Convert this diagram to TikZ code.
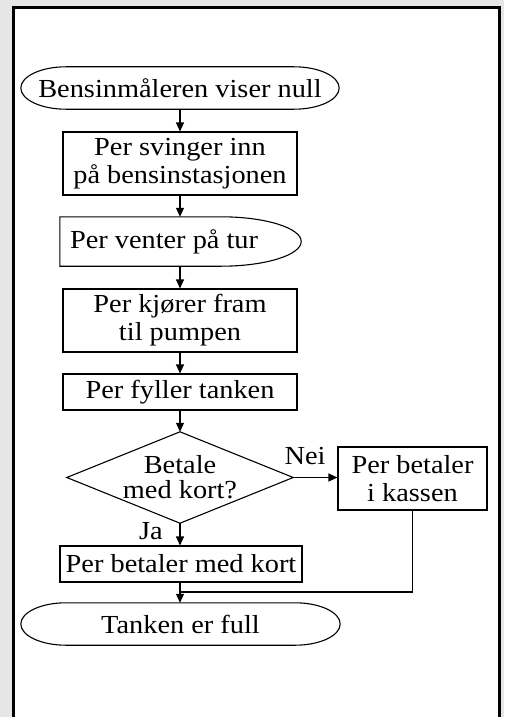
\documentclass[tikz,border=0pt]{standalone}
\usepackage{fontspec}
\setmainfont{Liberation Serif}[FakeStretch=1.09]
\usetikzlibrary{arrows.meta}
\definecolor{bgray}{HTML}{E6E6E6}
\tikzset{
  base/.style={inner sep=0pt, align=center, font=\fontsize{26}{28}\selectfont},
  boxnode/.style={base, draw, line width=1.1pt},
  plain/.style={base, draw=none},
  outl/.style={line width=1.1pt},
  conn/.style={line width=1.1pt, -{Triangle[length=9pt,width=8pt]}},
  line/.style={line width=1.1pt},
  lab/.style={inner sep=0pt, font=\fontsize{26}{28}\selectfont}
}
\newcommand\stadium[1]{%
  \draw[outl] ([xshift=45pt]#1.north west) -- ([xshift=-45pt]#1.north east)
    .. controls ([xshift=-20.1pt]#1.north east) and ([yshift=11.6pt]#1.east) .. (#1.east)
    .. controls ([yshift=-11.6pt]#1.east) and ([xshift=-20.1pt]#1.south east) .. ([xshift=-45pt]#1.south east)
    -- ([xshift=45pt]#1.south west)
    .. controls ([xshift=20.1pt]#1.south west) and ([yshift=-11.6pt]#1.west) .. (#1.west)
    .. controls ([yshift=11.6pt]#1.west) and ([xshift=20.1pt]#1.north west) .. ([xshift=45pt]#1.north west) -- cycle;}
\begin{document}
\begin{tikzpicture}[x=1pt,y=-1pt]
\useasboundingbox (0,0) rectangle (504,717);
\fill[bgray] (0,0) rectangle (504,717);
\fill[white] (13.3,7.3) rectangle (499.5,730);
\draw[line width=2.8pt] (13.3,730) -- (13.3,7.3) -- (499.5,7.3) -- (499.5,730);

% nodes
\node[plain, minimum width=318pt, minimum height=42pt] (s) at (180,88) {Bensinmåleren viser null};
\stadium{s}
\node[boxnode, minimum width=234pt, minimum height=63pt] (b1) at (180,163.5) {Per svinger inn\\på bensinstasjonen};
\node[plain, minimum width=241pt, minimum height=49pt] (w) at (180.5,241.5) {\makebox[221pt][l]{Per venter på tur}};
\draw[outl] (w.north west) -- ([xshift=-80pt]w.north east)
  .. controls ([xshift=-35.8pt]w.north east) and ([yshift=13.5pt]w.east) .. (w.east)
  .. controls ([yshift=-13.5pt]w.east) and ([xshift=-35.8pt]w.south east) .. ([xshift=-80pt]w.south east)
  -- (w.south west) -- cycle;
\node[boxnode, minimum width=234pt, minimum height=63pt] (b3) at (180,320.5) {Per kjører fram\\til pumpen};
\node[boxnode, minimum width=234pt, minimum height=36pt] (b4) at (180,392) {Per fyller tanken};
\node[plain, minimum width=226pt, minimum height=91pt] (d) at (180,477.5) {Betale\\[-3pt]med kort?};
\draw[outl] (d.north) -- (d.east) -- (d.south) -- (d.west) -- cycle;
\node[boxnode, minimum width=149pt, minimum height=63pt] (k) at (412.5,478.5) {Per betaler\\i kassen};
\node[boxnode, minimum width=242pt, minimum height=36pt] (b5) at (181,564) {Per betaler med kort};
\node[plain, minimum width=319pt, minimum height=42pt] (t) at (180.5,624) {Tanken er full};
\stadium{t}
\coordinate (j) at (180,592);

% connectors
\draw[conn] (s.south) -- (b1.north);
\draw[conn] (b1.south) -- (b1.south |- w.north);
\draw[conn] (b1.south |- w.south) -- (b3.north);
\draw[conn] (b3.south) -- (b4.north);
\draw[conn] (b4.south) -- (d.north);
\draw[conn] (d.east) -- (k.west |- d.east);
\draw[conn] (d.south) -- (d.south |- b5.north);
\draw[line] (k.south) |- (j);
\draw[conn] (j |- b5.south) -- (j |- t.north);

% labels
\node[lab] (nei) at (305,456) {Nei};
\node[lab] (ja) at (151,531) {Ja};
\end{tikzpicture}
\end{document}
